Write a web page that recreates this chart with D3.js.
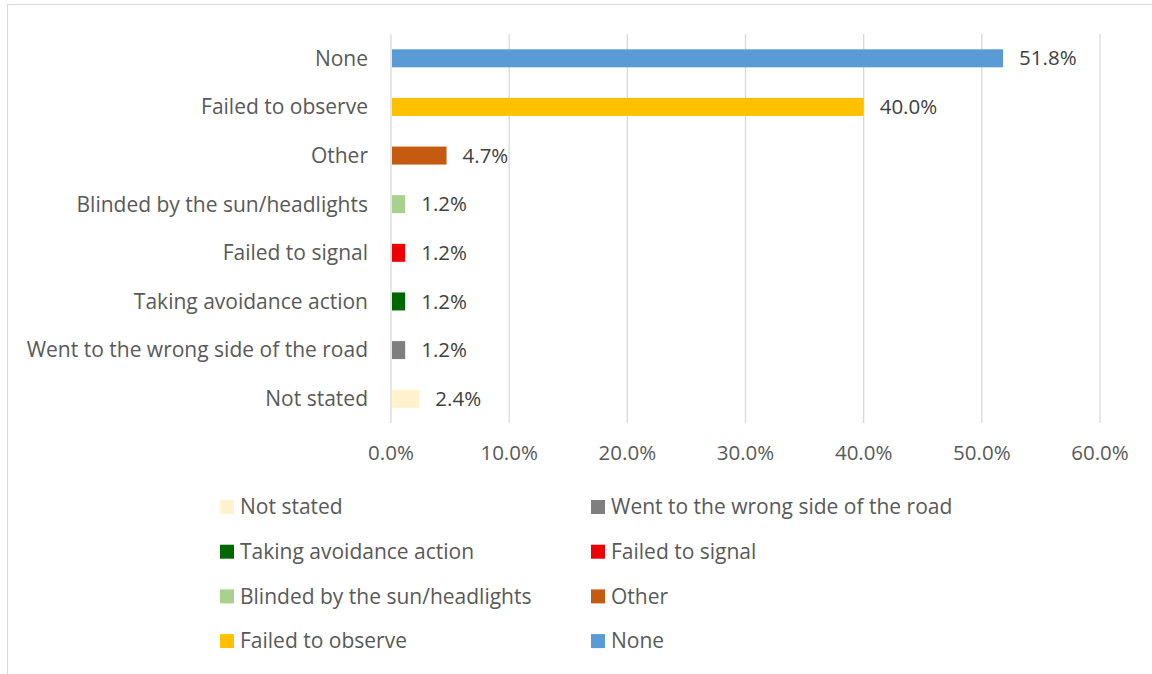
<!DOCTYPE html>
<html>
<head>
<meta charset="utf-8">
<script src="https://cdn.jsdelivr.net/npm/d3@7"></script>
<style>
  body { margin: 0; background: #fff; }
  svg text { font-family: "Open Sans", "Noto Sans", sans-serif; }
</style>
</head>
<body>
<svg width="1152" height="674"></svg>
<script>
// categories top to bottom, as drawn
const categories = [
  "None",
  "Failed to observe",
  "Other",
  "Blinded by the sun/headlights",
  "Failed to signal",
  "Taking avoidance action",
  "Went to the wrong side of the road",
  "Not stated"
];
const values = [51.8, 40.0, 4.7, 1.2, 1.2, 1.2, 1.2, 2.4];
const colors = ["#5B9BD5", "#FFC000", "#C55A11", "#A9D18E", "#EE0000", "#006600", "#7F7F7F", "#FFF2CC"];
const ticks = [0, 10, 20, 30, 40, 50, 60];

var svg = d3.select("svg");

// chart frame (only top and left edges show in the picture)
svg.append("line").attr("x1", 7).attr("x2", 1152).attr("y1", 4.5).attr("y2", 4.5)
  .attr("stroke", "#D9D9D9").attr("stroke-width", 1.2);
svg.append("line").attr("x1", 7.5).attr("x2", 7.5).attr("y1", 4).attr("y2", 674)
  .attr("stroke", "#D9D9D9").attr("stroke-width", 1.2);

var x = d3.scaleLinear().domain([0, 60]).range([391, 1100]);
var y = d3.scaleBand().domain(categories).range([34, 423]).paddingInner(0.63).paddingOuter(0.315);

// gridlines
svg.append("g").selectAll("line")
  .data(ticks)
  .enter().append("line")
  .attr("x1", function (d) { return x(d); })
  .attr("x2", function (d) { return x(d); })
  .attr("y1", 34).attr("y2", 423)
  .attr("stroke", "#D9D9D9").attr("stroke-width", 1.3);

// x tick labels
svg.append("g").selectAll("text")
  .data(ticks)
  .enter().append("text")
  .attr("x", function (d) { return x(d); })
  .attr("y", 460)
  .attr("text-anchor", "middle")
  .attr("font-size", 20.5)
  .attr("fill", "#595959")
  .text(function (d) { return d.toFixed(1) + "%"; });

// category labels
svg.append("g").selectAll("text")
  .data(categories)
  .enter().append("text")
  .attr("x", 368)
  .attr("y", function (d) { return y(d) + y.bandwidth() / 2; })
  .attr("dy", "0.35em")
  .attr("text-anchor", "end")
  .attr("font-size", 21)
  .attr("fill", "#595959")
  .text(function (d) { return d; });

// bars
svg.append("g").selectAll("rect")
  .data(categories)
  .enter().append("rect")
  .attr("x", x(0) + 1)
  .attr("y", function (d) { return y(d); })
  .attr("width", function (d, i) { return x(values[i]) - x(0) - 1; })
  .attr("height", y.bandwidth())
  .attr("fill", function (d, i) { return colors[i]; });

// value labels
svg.append("g").selectAll("text")
  .data(categories)
  .enter().append("text")
  .attr("x", function (d, i) { return x(values[i]) + 16; })
  .attr("y", function (d) { return y(d) + y.bandwidth() / 2; })
  .attr("dy", "0.35em")
  .attr("font-size", 20.5)
  .attr("fill", "#404040")
  .text(function (d, i) { return values[i].toFixed(1) + "%"; });

// legend, reversed order, two columns
var legendItems = categories.map(function (d, i) { return { name: d, color: colors[i] }; }).reverse();
var legend = svg.append("g").selectAll("g")
  .data(legendItems)
  .enter().append("g")
  .attr("transform", function (d, i) {
    return "translate(" + (i % 2 === 0 ? 220 : 591) + "," + (507 + Math.floor(i / 2) * 44.7) + ")";
  });

legend.append("rect")
  .attr("x", 0).attr("y", -7)
  .attr("width", 14).attr("height", 14)
  .attr("fill", function (d) { return d.color; });

legend.append("text")
  .attr("x", 20)
  .attr("dy", "0.35em")
  .attr("font-size", 21)
  .attr("fill", "#595959")
  .text(function (d) { return d.name; });
</script>
</body>
</html>
